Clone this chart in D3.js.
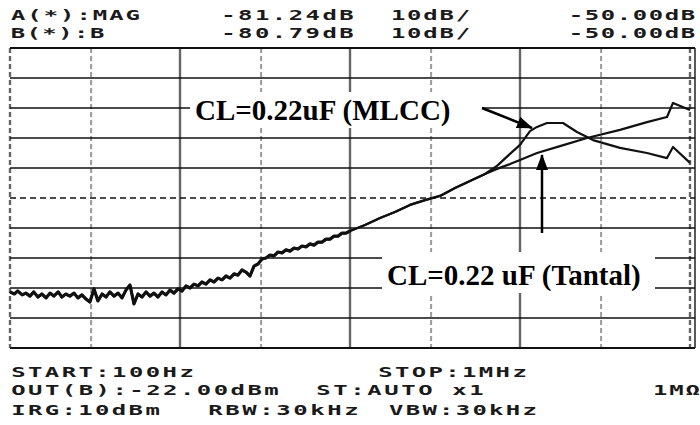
<!DOCTYPE html>
<html>
<head>
<meta charset="utf-8">
<script src="https://cdn.jsdelivr.net/npm/d3@7"></script>
<style>
  html, body { margin: 0; padding: 0; background: #fff; }
  svg { display: block; }
</style>
</head>
<body>
<svg id="chart" width="700" height="425"></svg>
<script>
// ---------- DATA ----------
// Shared trace (both capacitors overlap below ~60 kHz), frequency in Hz, level in dB
const sharedFreq = [100,106,111,118,124,131,138,146,154,163,172,181,192,202,213,225,238,251,265,280,295,312,329,348,367,387,409,432,456,481,508,536,566,598,631,666,703,742,784,827,873,922,973,
  1027,1085,1145,1209,1276,1347,1422,1502,1585,1673,1767,1865,1969,2078,2194,2316,2445,2581,2725,2877,3037,3206,3384,3573,3772,3981,4203,4437,4684,4945,5220,5511,5818,6141,6483,6844,7225,7627,8052,8500,8973,9473,10000,
  12250,15020,18390,22540,27620,33840,41460,50790,62250];
const sharedDb = [-131.3,-132.0,-131.0,-132.3,-131.7,-132.7,-131.3,-133.0,-132.0,-133.3,-131.7,-132.7,-131.3,-133.0,-132.0,-132.7,-131.7,-133.3,-132.3,-133.7,-134.7,-130.3,-134.3,-132.0,-133.0,-131.3,-132.7,-131.7,-133.3,-130.7,-129.0,-135.3,-132.0,-133.0,-131.3,-132.7,-131.7,-133.0,-131.3,-132.3,-130.7,-131.7,-130.3,
  -131.0,-129.3,-130.0,-128.7,-129.3,-128.0,-128.7,-127.3,-128.0,-126.7,-127.3,-126.0,-126.7,-125.3,-125.7,-124.0,-124.7,-126.0,-122.7,-122.0,-120.3,-120.0,-119.0,-119.3,-118.0,-118.3,-117.3,-117.7,-116.7,-117.0,-116.0,-116.3,-115.3,-115.7,-114.7,-114.7,-113.7,-113.7,-112.7,-112.7,-111.7,-111.7,-111.0,
  -109.0,-106.7,-104.7,-102.3,-100.7,-99.3,-96.7,-94.3,-92.0];

// CL = 0.22uF (MLCC) branch
const mlccFreq = [73220,87330,100000,114500,125900,144100,179000,216400,268800,387400,558600,732200,794300,1000000];
const mlccDb   = [-89.3,-85.3,-82.3,-77.7,-76.3,-75.0,-75.0,-78.0,-80.7,-83.3,-85.0,-86.7,-83.0,-88.3];

// CL = 0.22 uF (Tantal) branch
const tantalFreq = [73220,87330,100000,125900,171900,247900,387400,558600,732200,794300,1000000];
const tantalDb   = [-90.3,-88.7,-87.3,-85.0,-82.7,-80.0,-77.3,-74.7,-73.0,-68.3,-70.7];

// Grid
const gridFreqs  = [100,300,1000,3000,10000,30000,100000,300000,1000000];
const gridLevels = [-50,-60,-70,-80,-90,-100,-110,-120,-130,-140,-150];

// Screen texts
const headerRow1 = ["A(*):MAG", "-81.24dB", "10dB/", "-50.00dB"];
const headerRow2 = ["B(*):B", "-80.79dB", "10dB/", "-50.00dB"];
const footerRow1 = ["START:100Hz", "STOP:1MHz"];
const footerRow2 = ["OUT(B):-22.00dBm", "ST:AUTO x1", "1MΩ"];
const footerRow3 = ["IRG:10dBm", "RBW:30kHz", "VBW:30kHz"];
const labelMLCC   = "CL=0.22uF (MLCC)";
const labelTantal = "CL=0.22 uF (Tantal)";

// ---------- DRAW ----------
const svg = d3.select("#chart");
const x = d3.scaleLog().domain([100, 1e6]).range([10, 690]);
const y = d3.scaleLinear().domain([-150, -50]).range([348, 48]);

const defs = svg.append("defs");
defs.append("marker").attr("id", "arrow")
  .attr("markerUnits", "userSpaceOnUse")
  .attr("markerWidth", 16).attr("markerHeight", 12)
  .attr("refX", 15).attr("refY", 6).attr("orient", "auto")
  .append("path").attr("d", "M0,0 L16,6 L0,12 Z").attr("fill", "#000");

const grid = svg.append("g");
// vertical grid
gridFreqs.forEach((f, i) => {
  const decade = Math.abs(Math.log10(f) - Math.round(Math.log10(f))) < 1e-9;
  const isEdge = i === 0 || i === gridFreqs.length - 1;
  grid.append("line")
    .attr("x1", x(f)).attr("x2", x(f)).attr("y1", y(-50)).attr("y2", y(-150))
    .attr("stroke", decade ? "#666" : "#9a9a9a")
    .attr("stroke-width", decade ? 2.4 : 2)
    .attr("stroke-dasharray", (decade && !isEdge) ? null : "5,3");
});
// right double frame
grid.append("line").attr("x1", x(1e6) + 5).attr("x2", x(1e6) + 5)
  .attr("y1", y(-50)).attr("y2", y(-150)).attr("stroke", "#222").attr("stroke-width", 1.5);

// horizontal grid
gridLevels.forEach(v => {
  const edge = v === -50 || v === -150;
  grid.append("line")
    .attr("x1", x(100)).attr("x2", x(1e6) + 5).attr("y1", y(v)).attr("y2", y(v))
    .attr("stroke", "#111")
    .attr("stroke-width", edge ? 2.2 : 1.6)
    .attr("stroke-dasharray", v === -100 ? "6,4" : null);
});

// traces
const line = d3.line().x(d => x(d[0])).y(d => y(d[1]));
const shared = sharedFreq.map((f, i) => [f, sharedDb[i]]);
const mlcc = shared.concat(mlccFreq.map((f, i) => [f, mlccDb[i]]));
const tantal = shared.concat(tantalFreq.map((f, i) => [f, tantalDb[i]]));
[tantal, mlcc].forEach(s => {
  svg.append("path").datum(s).attr("d", line)
    .attr("fill", "none").attr("stroke", "#111").attr("stroke-width", 2.2)
    .attr("stroke-linejoin", "round");
});
// heavier noisy band at low frequencies (same data, thicker stroke)
svg.append("path").datum(shared.filter(d => d[0] <= 10000)).attr("d", line)
  .attr("fill", "none").attr("stroke", "#111").attr("stroke-width", 3.2)
  .attr("stroke-linejoin", "round");

// annotation MLCC
svg.append("rect").attr("x", 190).attr("y", 92).attr("width", 292).attr("height", 36).attr("fill", "#fff");
svg.append("text").attr("x", 195).attr("y", 120).text(labelMLCC)
  .attr("font-family", "'Liberation Serif', 'Times New Roman', serif")
  .attr("font-weight", "bold").attr("font-size", 29).attr("fill", "#000");
svg.append("line").attr("x1", 482).attr("y1", 108).attr("x2", 532).attr("y2", 128)
  .attr("stroke", "#000").attr("stroke-width", 2.5).attr("marker-end", "url(#arrow)");

// annotation Tantal
svg.append("rect").attr("x", 382).attr("y", 252).attr("width", 273).attr("height", 41).attr("fill", "#fff");
svg.append("text").attr("x", 387).attr("y", 285).text(labelTantal)
  .attr("font-family", "'Liberation Serif', 'Times New Roman', serif")
  .attr("font-weight", "bold").attr("font-size", 29).attr("fill", "#000");
svg.append("line").attr("x1", 542).attr("y1", 233).attr("x2", 542).attr("y2", 155)
  .attr("stroke", "#000").attr("stroke-width", 2.5).attr("marker-end", "url(#arrow)");

// screen texts: wide LCD-style glyphs, one fixed-width cell per character
const GLYPH_SX = 1.65;
function lcd(str, px, py, len) {
  const chars = Array.from(str);
  const n = chars.length;
  const cell = (len + 3) / n;
  const xs = chars.map((c, i) => ((i + 0.5) * cell) / GLYPH_SX);
  svg.append("text")
    .attr("transform", `translate(${px},${py}) scale(${GLYPH_SX},1)`)
    .attr("x", xs.join(" ")).attr("y", 0)
    .attr("text-anchor", "middle")
    .attr("font-family", "'DejaVu Sans Mono', monospace")
    .attr("font-weight", "bold").attr("font-size", 14.5).attr("fill", "#1a1a1a")
    .text(str);
}
const hx = [10, 220, 390, 568], hl1 = [128, 132, 78, 125], hl2 = [92, 132, 78, 125];
headerRow1.forEach((s, i) => lcd(s, hx[i], 20, hl1[i]));
headerRow2.forEach((s, i) => lcd(s, hx[i], 38, hl2[i]));
lcd(footerRow1[0], 10, 377, 182);
lcd(footerRow1[1], 377, 377, 148);
lcd(footerRow2[0], 10, 395, 267);
lcd(footerRow2[1], 315, 395, 167);
lcd(footerRow2[2], 652, 395, 46);
lcd(footerRow3[0], 10, 415, 148);
lcd(footerRow3[1], 207, 415, 150);
lcd(footerRow3[2], 388, 415, 147);
</script>
</body>
</html>
